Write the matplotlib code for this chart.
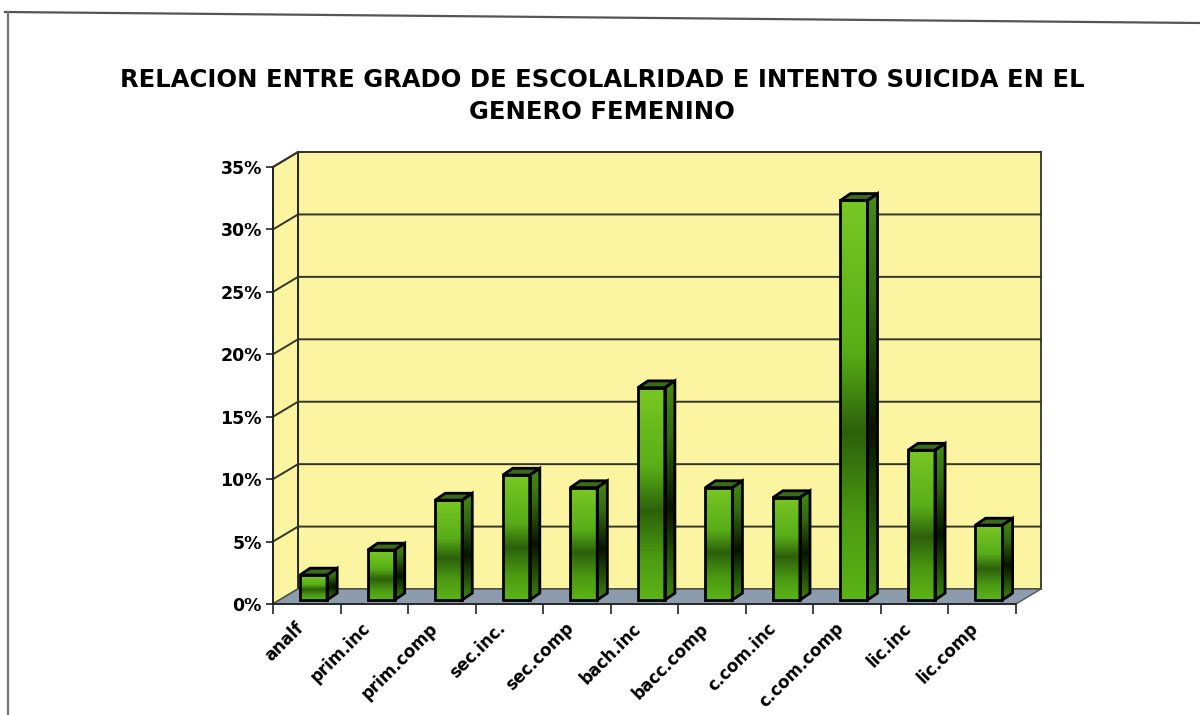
import numpy as np
import matplotlib
matplotlib.use("Agg")
import matplotlib.pyplot as plt
from matplotlib.patches import Polygon
from matplotlib.lines import Line2D
from matplotlib.colors import LinearSegmentedColormap

# ---- data ----
categories = ["analf", "prim.inc", "prim.comp", "sec.inc.", "sec.comp", "bach.inc",
              "bacc.comp", "c.com.inc", "c.com.comp", "lic.inc", "lic.comp"]
values = [2, 4, 8, 10, 9, 17, 9, 8.2, 32, 12, 6]   # percent
y_ticks = [0, 5, 10, 15, 20, 25, 30, 35]
title = "RELACION ENTRE GRADO DE ESCOLALRIDAD E INTENTO SUICIDA EN EL\nGENERO FEMENINO"

W, H = 1200, 715
fig = plt.figure(figsize=(W / 100, H / 100), dpi=100)
fig.patch.set_facecolor("white")

# axes: front plane
left_px, right_px, y0_px, ytop_px = 273, 1016, 604, 167
ax = fig.add_axes([left_px / W, 1 - y0_px / H, (right_px - left_px) / W, (y0_px - ytop_px) / H])
n = len(categories)
ymax = 35
ax.set_xlim(0, n)
ax.set_ylim(0, ymax)
ax.set_facecolor("none")

# depth vector (data units)
DX, DY = 0.37, 1.2
wall_c = "#FBF4A0"
floor_c = "#8D9CAD"
grid_c = "#35352A"

# back wall
ax.add_patch(Polygon([(DX, DY), (n + DX, DY), (n + DX, ymax + DY), (DX, ymax + DY)],
                     closed=True, facecolor=wall_c, edgecolor="#333333", lw=1.3,
                     zorder=1, clip_on=False))
# left side wall
ax.add_patch(Polygon([(0, 0), (DX, DY), (DX, ymax + DY), (0, ymax)],
                     closed=True, facecolor=wall_c, edgecolor="#222222", lw=1.3,
                     zorder=1, clip_on=False))
# gridlines
for v in y_ticks[1:]:
    ax.plot([0, DX, n + DX], [v, v + DY, v + DY], color=grid_c, lw=1.4,
            zorder=2, clip_on=False, solid_joinstyle="miter")
# floor
ax.add_patch(Polygon([(0, 0), (n, 0), (n + DX, DY), (DX, DY)],
                     closed=True, facecolor=floor_c, edgecolor="#555555", lw=1.0,
                     zorder=2, clip_on=False))

# bars
front_cmap = LinearSegmentedColormap.from_list(
    "front", [(0.0, "#5CB417"), (0.2, "#4C9A12"), (0.42, "#2C600B"),
              (0.62, "#58AD17"), (1.0, "#78C824")])
side_cmap = LinearSegmentedColormap.from_list(
    "side", [(0.0, "#3E860F"), (0.42, "#061400"), (0.75, "#336A10"), (1.0, "#458C15")])
top_c = "#3A6A1B"

bw = 0.4
FX, FY = 0.10, 0.32     # front face offset into the floor
BX, BY = 0.15, 0.55     # bar depth
grad = np.linspace(0, 1, 256).reshape(-1, 1)

for i, v in enumerate(values):
    xl = i + 0.5 - bw / 2 + FX
    xr = xl + bw
    yb = FY
    yt = v + FY
    front = Polygon([(xl, yb), (xr, yb), (xr, yt), (xl, yt)], closed=True,
                    facecolor="none", edgecolor="black", lw=2.0, zorder=6)
    side = Polygon([(xr, yb), (xr + BX, yb + BY), (xr + BX, yt + BY), (xr, yt)], closed=True,
                   facecolor="none", edgecolor="black", lw=2.0, zorder=6)
    top = Polygon([(xl, yt), (xr, yt), (xr + BX, yt + BY), (xl + BX, yt + BY)], closed=True,
                  facecolor=top_c, edgecolor="black", lw=2.0, zorder=5)
    ax.add_patch(top)
    ax.add_patch(front)
    ax.add_patch(side)
    im1 = ax.imshow(grad, cmap=front_cmap, origin="lower", aspect="auto",
                    extent=(xl, xr, yb, yt), zorder=4, interpolation="bilinear")
    im1.set_clip_path(front)
    im2 = ax.imshow(grad, cmap=side_cmap, origin="lower", aspect="auto",
                    extent=(xr, xr + BX, yb, yt + BY), zorder=4, interpolation="bilinear")
    im2.set_clip_path(side)

ax.set_xlim(0, n)
ax.set_ylim(0, ymax)

# axes styling
for s in ["top", "right"]:
    ax.spines[s].set_visible(False)
for s in ["left", "bottom"]:
    ax.spines[s].set_color("#222222")
    ax.spines[s].set_linewidth(1.3)
    ax.spines[s].set_zorder(3)
ax.spines["left"].set_bounds(0, ymax)

ax.set_yticks(y_ticks)
ax.set_yticklabels([f"{v}%" for v in y_ticks])
ax.tick_params(axis="y", direction="out", length=5, width=1.2, pad=3,
               labelsize=12.5, colors="#222222", labelcolor="black")
ax.set_xticks(np.arange(0, n + 1))
ax.set_xticklabels([])
ax.tick_params(axis="x", which="major", direction="out", length=7, width=1.2, colors="#222222")
ax.set_xticks(np.arange(n) + 0.5, minor=True)
ax.set_xticklabels(categories, minor=True, rotation=45, ha="right")
ax.tick_params(axis="x", which="minor", length=0, pad=11, labelsize=12)
for lab in ax.get_yticklabels() + ax.get_xticklabels(minor=True):
    lab.set_fontweight("bold")
    lab.set_family("DejaVu Sans")

# title
fig.text(0.502, 1 - 96 / H, title, ha="center", va="center", fontsize=17.5,
         fontweight="bold", family="DejaVu Sans", linespacing=1.4)

# scanned page frame
fig.add_artist(Line2D([5 / W, 1.0], [1 - 12 / H, 1 - 23 / H], transform=fig.transFigure,
                      color="#555555", lw=1.6))
fig.add_artist(Line2D([8 / W, 8 / W], [1 - 12 / H, 0.0], transform=fig.transFigure,
                      color="#777777", lw=1.6))

fig.savefig("out.png", dpi=100)
